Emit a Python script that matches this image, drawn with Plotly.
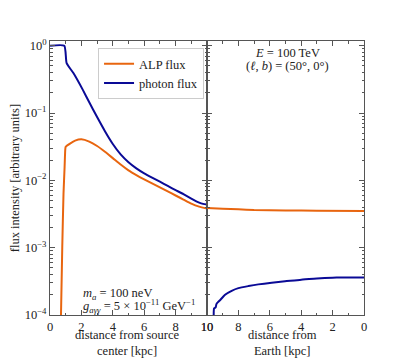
import plotly.graph_objects as go
from plotly.subplots import make_subplots

# ---- data ----
# left panel: distance from source center [kpc]
photon_src_x = [0, 0.91, 1.06, 1.5, 2.1, 2.5, 3.0, 3.5, 4.0, 4.5, 5.0, 5.5, 6.0, 6.5, 7.0, 7.5,
                8.0, 8.5, 9.0, 9.5, 9.75, 10]
photon_src_y = [1.0, 1.0, 0.550, 0.389, 0.219, 0.1445, 0.0871, 0.0537, 0.0347, 0.0243, 0.0186,
                0.0151, 0.01274, 0.01101, 0.00955, 0.00826, 0.00716, 0.00624, 0.00537, 0.00468,
                0.00447, 0.00437]
alp_src_x = [0.70, 0.78, 0.86, 0.93, 0.97, 1.0, 1.3, 1.6, 2.0, 2.5, 3.0, 3.5, 4.0, 4.5, 5.0, 5.5,
             6.0, 6.5, 7.0, 7.5, 8.0, 8.5, 9.0, 9.5, 10]
alp_src_y = [1e-4, 1e-3, 0.0063, 0.0158, 0.0282, 0.0316, 0.0355, 0.0389, 0.0407, 0.0376, 0.0324,
             0.0266, 0.0214, 0.0172, 0.0141, 0.0120, 0.01035, 0.00902, 0.00785, 0.00684, 0.00596,
             0.00519, 0.00452, 0.00407, 0.0038]
# right panel: distance from Earth [kpc]
alp_earth_x = [10, 9, 8, 7, 5, 3, 0]
alp_earth_y = [0.0039, 0.0038, 0.00372, 0.00363, 0.00357, 0.00355, 0.0035]
photon_earth_x = [9.57, 9.55, 9.45, 9.40, 9.30, 9.17, 8.85, 8.43, 8.0, 7.36, 6.73, 5.88, 5.03, 4.0,
                  3.0, 2.0, 1.5, 0]
photon_earth_y = [8e-5, 1.25e-4, 1.3e-4, 1.45e-4, 1.55e-4, 1.66e-4, 2.0e-4, 2.29e-4, 2.51e-4, 2.69e-4,
                  2.85e-4, 3.02e-4, 3.16e-4, 3.35e-4, 3.47e-4, 3.59e-4, 3.62e-4, 3.62e-4]

x_ticks = [0, 2, 4, 6, 8, 10]
y_ticks = [1e-4, 1e-3, 1e-2, 1e-1, 1]
y_ticktext = ["10<sup>−4</sup>", "10<sup>−3</sup>", "10<sup>−2</sup>", "10<sup>−1</sup>", "10<sup>0</sup>"]
y_minor = [m * 10.0 ** e for e in range(-4, 1) for m in range(2, 10)]

ALP_COLOR = "#e8650f"
PHOTON_COLOR = "#0a0a96"
FONT = "Liberation Serif"
TXT = "#222222"
AX = "#555555"
FS = 12.5

fig = make_subplots(rows=1, cols=2, shared_yaxes=True, horizontal_spacing=0)

line_kw = dict(width=2, shape="spline", smoothing=0.5)
fig.add_trace(go.Scatter(x=alp_src_x, y=alp_src_y, mode="lines", name="ALP flux",
                         line=dict(color=ALP_COLOR, **line_kw)), row=1, col=1)
fig.add_trace(go.Scatter(x=photon_src_x, y=photon_src_y, mode="lines", name="photon flux",
                         line=dict(color=PHOTON_COLOR, **line_kw)), row=1, col=1)
fig.add_trace(go.Scatter(x=alp_earth_x, y=alp_earth_y, mode="lines", name="ALP flux", showlegend=False,
                         line=dict(color=ALP_COLOR, **line_kw)), row=1, col=2)
fig.add_trace(go.Scatter(x=photon_earth_x, y=photon_earth_y, mode="lines", name="photon flux",
                         showlegend=False, line=dict(color=PHOTON_COLOR, **line_kw)), row=1, col=2)

xcommon = dict(showline=True, linecolor=AX, linewidth=1, mirror="ticks", ticks="inside",
               ticklen=5, tickcolor=AX, tickvals=x_ticks, showgrid=False, zeroline=False,
               automargin=False, tickfont=dict(family=FONT, size=FS, color=TXT),
               minor=dict(ticks="inside", ticklen=2.5, tickcolor=AX, dtick=1, tick0=0, showgrid=False))
fig.update_xaxes(**xcommon)
fig.update_xaxes(range=[0, 10], row=1, col=1)
fig.update_xaxes(range=[10, 0], row=1, col=2)

ycommon = dict(type="log", range=[-4, 0.07], showline=True, linecolor=AX, linewidth=1,
               mirror="ticks", ticks="inside", ticklen=5, tickcolor=AX, tickmode="array",
               tickvals=y_ticks, ticktext=y_ticktext, showgrid=False, zeroline=False,
               automargin=False, tickfont=dict(family=FONT, size=FS, color=TXT),
               minor=dict(ticks="inside", ticklen=2.5, tickcolor=AX, tickmode="array",
                          tickvals=y_minor, showgrid=False))
fig.update_yaxes(**ycommon)
fig.update_yaxes(row=1, col=2, showticklabels=False)

tfont = dict(family=FONT, size=FS, color=TXT)
# axis titles as paper annotations
fig.add_annotation(xref="paper", yref="paper", x=-0.111, y=0.5, textangle=-90,
                   text="flux intensity [arbitrary units]", showarrow=False,
                   xanchor="center", yanchor="middle", font=tfont)
fig.add_annotation(xref="paper", yref="paper", x=0.248, y=-0.104,
                   text="distance from source<br>center [kpc]", showarrow=False,
                   xanchor="center", yanchor="middle", font=tfont)
fig.add_annotation(xref="paper", yref="paper", x=0.742, y=-0.104,
                   text="distance from<br>Earth [kpc]", showarrow=False,
                   xanchor="center", yanchor="middle", font=tfont)

fig.add_annotation(xref="x2", yref="paper", x=4.9, y=0.955, text="<i>E</i> = 100 TeV",
                   showarrow=False, xanchor="center", yanchor="middle", font=tfont)
fig.add_annotation(xref="x2", yref="paper", x=4.9, y=0.91, text="(<i>ℓ</i>, <i>b</i>) = (50°, 0°)",
                   showarrow=False, xanchor="center", yanchor="middle", font=tfont)
fig.add_annotation(xref="x", yref="paper", x=1.95, y=0.078, text="<i>m<sub>a</sub></i> = 100 neV",
                   showarrow=False, xanchor="left", yanchor="middle", font=tfont)
fig.add_annotation(xref="x", yref="paper", x=1.95, y=0.033,
                   text="<i>g<sub>aγγ</sub></i> = 5 × 10<sup>−11</sup> GeV<sup>−1</sup>",
                   showarrow=False, xanchor="left", yanchor="middle", font=tfont)

# the page body adds an 8 px offset, so the margins are shifted to keep the plot area at
# x 50..364, y 41..315 in the 405x360 window
fig.update_layout(
    width=405, height=360,
    margin=dict(l=42, r=49, t=33, b=53, autoexpand=False),
    paper_bgcolor="white", plot_bgcolor="white",
    font=dict(family=FONT, size=FS, color=TXT),
    legend=dict(x=0.153, y=0.974, xanchor="left", yanchor="top", bgcolor="white",
                bordercolor="#cccccc", borderwidth=1, itemwidth=30,
                font=dict(family=FONT, size=FS, color=TXT)),
)

fig.write_html("out.html")
